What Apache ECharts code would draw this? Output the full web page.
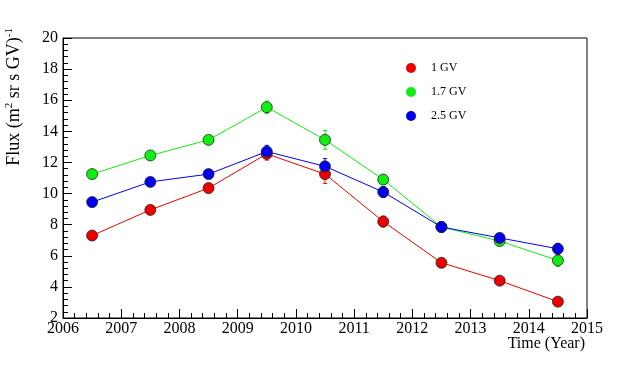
<!DOCTYPE html>
<html>
<head>
<meta charset="utf-8">
<script src="https://cdn.jsdelivr.net/npm/echarts@6/dist/echarts.min.js"></script>
<style>
html, body { margin: 0; padding: 0; background: #fff; }
#chart { width: 617px; height: 375px; }
</style>
</head>
<body>
<div id="chart"></div>
<script>
// years (mid-year points)
var years = [2006.5, 2007.5, 2008.5, 2009.5, 2010.5, 2011.5, 2012.5, 2013.5, 2014.5];
var names = ['1 GV', '1.7 GV', '2.5 GV'];
var colors = ['#ee0000', '#11ee11', '#0000ee'];

var flux1 = [7.3, 8.95, 10.35, 12.55, 11.25, 8.2, 5.55, 4.4, 3.05];
var flux17 = [11.25, 12.45, 13.45, 15.55, 13.45, 10.9, 7.85, 6.95, 5.7];
var flux25 = [9.45, 10.75, 11.25, 12.7, 11.75, 10.1, 7.85, 7.15, 6.45];

var err1 = [0.25, 0.2, 0.2, 0.4, 0.6, 0.35, 0.25, 0.2, 0.2];
var err17 = [0.2, 0.2, 0.2, 0.4, 0.6, 0.3, 0.3, 0.3, 0.4];
var err25 = [0.3, 0.2, 0.2, 0.4, 0.5, 0.35, 0.35, 0.3, 0.35];

var allFlux = [flux1, flux17, flux25];
var allErr = [err1, err17, err25];

var chart = echarts.init(document.getElementById('chart'));

function pairs(vals) {
    var out = [];
    for (var i = 0; i < years.length; i++) out.push([years[i], vals[i]]);
    return out;
}

function errData(vals, errs) {
    var out = [];
    for (var i = 0; i < years.length; i++) out.push([years[i], vals[i] - errs[i], vals[i] + errs[i]]);
    return out;
}

function errRender(color) {
    return function(params, api) {
        var lo = api.coord([api.value(0), api.value(1)]);
        var hi = api.coord([api.value(0), api.value(2)]);
        var w = 2;
        return {
            type: 'group',
            children: [
                { type: 'line', shape: { x1: lo[0], y1: lo[1], x2: hi[0], y2: hi[1] }, style: { stroke: color, lineWidth: 1 } },
                { type: 'line', shape: { x1: lo[0] - w, y1: lo[1], x2: lo[0] + w, y2: lo[1] }, style: { stroke: color, lineWidth: 1 } },
                { type: 'line', shape: { x1: hi[0] - w, y1: hi[1], x2: hi[0] + w, y2: hi[1] }, style: { stroke: color, lineWidth: 1 } }
            ]
        };
    };
}

var series = [];
for (var s = 0; s < 3; s++) {
    series.push({
        type: 'custom',
        renderItem: errRender(colors[s]),
        data: errData(allFlux[s], allErr[s]),
        z: 1,
        silent: true
    });
}
for (var s = 0; s < 3; s++) {
    series.push({
        name: names[s],
        type: 'line',
        data: pairs(allFlux[s]),
        symbol: 'circle',
        symbolSize: 11,
        lineStyle: { color: colors[s], width: 1 },
        itemStyle: { color: colors[s], borderColor: '#222', borderWidth: 0.8 },
        z: 3
    });
}

var font = 'Liberation Serif';

var option = {
    animation: false,
    grid: {
        left: 63,
        right: 30,
        top: 38,
        bottom: 57,
        show: true,
        borderColor: '#000',
        borderWidth: 1
    },
    legend: {
        data: names,
        orient: 'vertical',
        left: 401,
        top: 57,
        icon: 'circle',
        itemWidth: 10,
        itemHeight: 10,
        itemGap: 12,
        itemStyle: { borderWidth: 0 },
        textStyle: { fontFamily: font, fontSize: 12, color: '#000', padding: [0, 0, 0, 10] }
    },
    xAxis: {
        type: 'value',
        min: 2006,
        max: 2015,
        interval: 1,
        axisLine: { lineStyle: { color: '#000' } },
        axisTick: { inside: true, length: 9, lineStyle: { color: '#000' } },
        minorTick: { show: true, splitNumber: 5, length: 5, lineStyle: { color: '#000' } },
        splitLine: { show: false },
        axisLabel: {
            color: '#000',
            fontFamily: font,
            fontSize: 16,
            margin: 3,
            formatter: function(v) { return String(v); }
        }
    },
    yAxis: {
        type: 'value',
        min: 2,
        max: 20,
        interval: 2,
        axisLine: { lineStyle: { color: '#000' } },
        axisTick: { inside: true, length: 9, lineStyle: { color: '#000' } },
        minorTick: { show: true, splitNumber: 5, length: 5, lineStyle: { color: '#000' } },
        splitLine: { show: false },
        axisLabel: { color: '#000', fontFamily: font, fontSize: 16, margin: 5 }
    },
    graphic: [
        {
            type: 'text',
            x: 585,
            y: 336,
            style: { text: 'Time (Year)', font: '16px "Liberation Serif"', fill: '#000', align: 'right', verticalAlign: 'top' }
        },
        {
            type: 'text',
            x: 4,
            y: 28,
            rotation: Math.PI / 2,
            style: {
                text: 'Flux (m{sup|2} sr s GV){sup|-1}',
                font: '18px "Liberation Serif"',
                fill: '#000',
                align: 'right',
                verticalAlign: 'top',
                rich: { sup: { fontSize: 11, fontFamily: font, verticalAlign: 'top', padding: [0, 0, 9, 0] } }
            }
        }
    ],
    series: series
};

chart.setOption(option);
</script>
</body>
</html>
